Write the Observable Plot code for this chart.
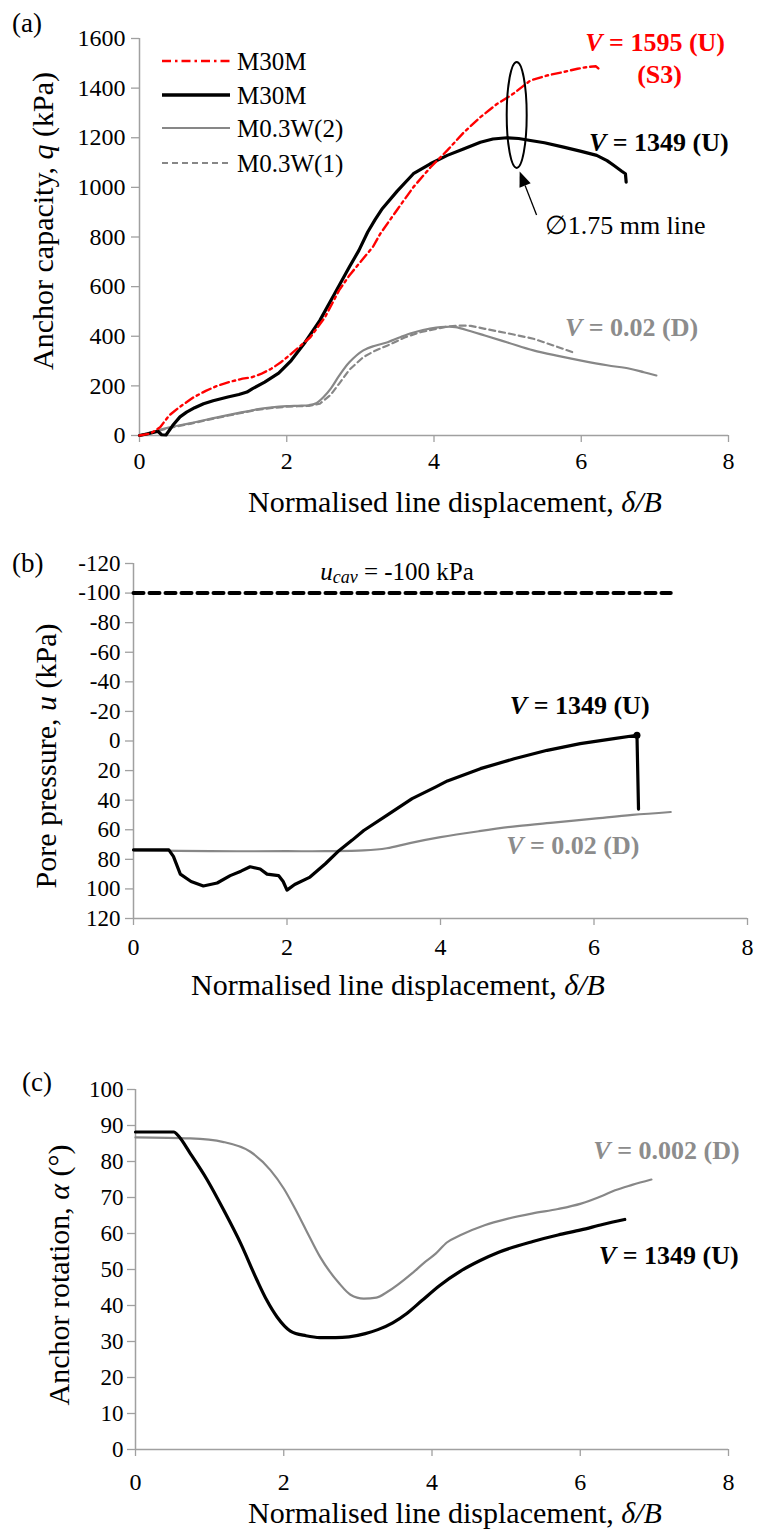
<!DOCTYPE html>
<html><head><meta charset="utf-8">
<script src="https://cdn.jsdelivr.net/npm/d3@7"></script>
<script src="https://cdn.jsdelivr.net/npm/@observablehq/plot@0.6"></script>
<style>
body{margin:0;background:#fff;}
#wrap{position:relative;width:758px;height:1533px;background:#fff;font-family:"Liberation Serif",serif;}
#wrap > svg{position:absolute;left:0;}
#wrap text{font-family:"Liberation Serif",serif;}
</style></head><body><div id="wrap"></div>
<script>
// ---------- DATA ----------
const xTicks = [0, 2, 4, 6, 8];
const qTicks = [0, 200, 400, 600, 800, 1000, 1200, 1400, 1600];
const uTicks = [-120, -100, -80, -60, -40, -20, 0, 20, 40, 60, 80, 100, 120];
const aTicks = [0, 10, 20, 30, 40, 50, 60, 70, 80, 90, 100];

const legendNames = ["M30M", "M30M", "M0.3W(2)", "M0.3W(1)"];

// Panel (a): anchor capacity q (kPa) vs delta/B
const qRedM30M = [[0,0],[0.15,8],[0.28,33],[0.4,80],[0.54,114],[0.74,155],[0.9,180],[1.07,202],[1.25,218],[1.4,229],[1.53,235],[1.65,248],[1.79,269],[1.92,295],[2.06,329],[2.2,365],[2.32,396],[2.52,477],[2.71,585],[2.85,645],[2.98,692],[3.17,760],[3.27,813],[3.5,910],[3.72,1001],[3.95,1080],[4.18,1149],[4.4,1220],[4.63,1283],[4.85,1335],[5.08,1378],[5.31,1431],[5.55,1452],[5.76,1465],[5.95,1478],[6.08,1485],[6.2,1488],[6.26,1472]];
const qBlackM30M = [[0,0],[0.1,6],[0.2,13],[0.25,17],[0.3,3],[0.36,2],[0.45,40],[0.55,75],[0.64,94],[0.75,112],[0.87,128],[1.0,140],[1.2,155],[1.35,165],[1.46,175],[1.53,188],[1.7,215],[1.89,251],[2.06,302],[2.25,376],[2.45,464],[2.65,571],[2.85,679],[2.98,746],[3.1,820],[3.2,870],[3.3,915],[3.5,985],[3.72,1055],[3.95,1095],[4.18,1129],[4.4,1155],[4.63,1182],[4.8,1195],[4.99,1200],[5.15,1197],[5.31,1189],[5.5,1180],[5.76,1162],[6.0,1145],[6.21,1129],[6.35,1108],[6.44,1089],[6.55,1065],[6.6,1055],[6.61,1021]];
const qGrayW2 = [[0,0],[0.41,33],[0.7,50],[1.07,74],[1.3,88],[1.59,105],[1.8,113],[2.0,118],[2.15,120],[2.3,122],[2.4,130],[2.5,155],[2.6,190],[2.71,240],[2.85,295],[3.04,343],[3.2,362],[3.37,376],[3.55,397],[3.7,413],[3.85,425],[4.03,435],[4.15,438],[4.29,437],[4.5,420],[4.69,403],[5.0,375],[5.35,343],[5.7,320],[6.0,302],[6.35,283],[6.66,269],[6.85,255],[7.02,242]];
const qGrayW1 = [[0,0],[0.41,31],[0.7,48],[1.07,72],[1.3,86],[1.59,103],[1.8,111],[2.0,116],[2.15,118],[2.3,119],[2.45,128],[2.6,165],[2.71,208],[2.85,265],[3.04,316],[3.2,342],[3.37,363],[3.6,395],[3.8,415],[4.03,430],[4.2,440],[4.36,443],[4.5,442],[4.69,430],[5.0,412],[5.35,390],[5.6,365],[5.88,336]];

// Panel (b): pore pressure u (kPa)
const uCav = [[0,-100],[7,-100]];
const uBlack = [[0,73.6],[0.46,73.6],[0.52,78],[0.61,90],[0.75,95],[0.91,98],[1.09,96],[1.26,91],[1.4,88],[1.52,85],[1.65,86.5],[1.74,90],[1.89,91],[1.95,95],[2.0,100.8],[2.1,97],[2.3,92],[2.5,83],[2.68,74],[2.85,67],[3.0,60.5],[3.31,50],[3.63,39],[3.94,31],[4.09,27],[4.52,18.7],[4.96,12],[5.39,6.3],[5.82,1.8],[6.26,-1.6],[6.56,-3.9],[6.58,46]];
const uBlackEnd = [[6.56,-3.9]];
const uGray = [[0,74],[1,74.5],[2,74.5],[2.5,74.5],[3,74],[3.3,72.5],[3.6,69],[4,65],[4.5,61],[5,57.5],[5.5,55],[6,52.5],[6.5,50],[7,48]];

// Panel (c): anchor rotation alpha (deg)
const aBlack = [[0,88.2],[0.52,88.2],[0.57,87.3],[0.74,82.2],[0.97,74.8],[1.19,66.5],[1.42,57.2],[1.64,47],[1.77,41.5],[1.91,36.8],[2.09,32.9],[2.3,31.6],[2.49,31.1],[2.7,31.1],[2.88,31.3],[3.1,32.2],[3.27,33.3],[3.47,35.2],[3.66,37.8],[3.86,41.3],[4.1,45.5],[4.38,49.5],[4.65,52.5],[4.9,54.8],[5.36,57.8],[5.7,59.6],[6.01,61.0],[6.3,62.5],[6.6,63.9]];
const aGray = [[0,86.7],[0.74,86.4],[1.19,85.4],[1.55,82.7],[1.82,77.6],[2.0,72.5],[2.15,67],[2.3,61],[2.49,53.5],[2.75,46.1],[2.9,43],[3.08,41.9],[3.25,42.2],[3.4,43.8],[3.73,48.9],[3.9,52],[4.05,54.4],[4.2,57.5],[4.38,59.5],[4.71,62.3],[5.0,64],[5.36,65.6],[5.7,66.8],[6.01,68.3],[6.3,70.5],[6.47,72],[6.7,73.5],[6.96,75]];

// ---------- HELPERS ----------
const SERIF = "Liberation Serif";
const AX = "#a0a0a0";
const RED = "#ff0000", GRAY = "#878787", GRAYT = "#8c8c8c";
const pts = a => a.map(([x, y]) => ({x, y}));

function rich(sel, parts, fs) {
  for (const p of parts) {
    const s = sel.append("tspan").text(p.t);
    if (p.i) s.attr("font-style", "italic");
    if (p.sub) s.attr("font-size", fs * 0.72).attr("dy", fs * 0.22);
    if (p.unsub) s.attr("dy", -fs * 0.22);
  }
}
function label(xv, yv, parts, {fs = 26, fill = "black", weight = "bold", anchor = "middle"} = {}) {
  return (index, scales) => {
    const t = d3.create("svg:text")
      .attr("x", scales.x(xv)).attr("y", scales.y(yv))
      .attr("text-anchor", anchor).attr("dominant-baseline", "central")
      .attr("font-family", SERIF).attr("font-size", fs)
      .attr("font-weight", weight).attr("fill", fill);
    rich(t, parts, fs);
    return t.node();
  };
}
function axes(yTicks, yFmt, xFs, yFs, xPad, yPad) {
  return [
    Plot.axisX({ticks: xTicks, tickSize: 7, tickPadding: xPad, stroke: AX, strokeWidth: 1.3, fill: "black", fontSize: xFs, fontFamily: SERIF, label: null}),
    Plot.axisY({ticks: yTicks, tickSize: 8, tickPadding: yPad, stroke: AX, strokeWidth: 1.3, fill: "black", fontSize: yFs, fontFamily: SERIF, label: null, tickFormat: yFmt})
  ];
}
const styleBase = {fontFamily: SERIF, background: "transparent", overflow: "visible", color: "black"};

const wrap = document.getElementById("wrap");

// ---------- PANEL (a) ----------
const A = Plot.plot({
  width: 758, height: 530, marginTop: 38, marginBottom: 95, marginLeft: 139, marginRight: 30,
  style: styleBase,
  x: {domain: [0, 8]}, y: {domain: [0, 1600]},
  marks: [
    ...axes(qTicks, d => String(d), 24, 24, 9, 6),
    Plot.ruleY([0], {stroke: AX, strokeWidth: 1.5}),
    Plot.ruleX([0], {stroke: AX, strokeWidth: 1.5}),
    Plot.line(pts(qGrayW1), {x: "x", y: "y", stroke: GRAY, strokeWidth: 2.2, strokeDasharray: "6,4"}),
    Plot.line(pts(qGrayW2), {x: "x", y: "y", stroke: GRAY, strokeWidth: 2.2, curve: "catmull-rom"}),
    Plot.line(pts(qBlackM30M), {x: "x", y: "y", stroke: "black", strokeWidth: 3.2, strokeLinejoin: "round"}),
    Plot.line(pts(qRedM30M), {x: "x", y: "y", stroke: RED, strokeWidth: 2.4, strokeDasharray: "9,4,2.5,4"}),
    (index, scales) => {
      const g = d3.create("svg:g");
      const cx = scales.x(5.13), cy = scales.y(1290);
      g.append("ellipse").attr("cx", cx).attr("cy", cy).attr("rx", 10).attr("ry", 53)
        .attr("fill", "none").attr("stroke", "black").attr("stroke-width", 2);
      const x1 = scales.x(5.40), y1 = scales.y(887), x2 = scales.x(5.17), y2 = scales.y(1062);
      const ang = Math.atan2(y2 - y1, x2 - x1), L = 15, W = 6;
      const bx = x2 - L * Math.cos(ang), by = y2 - L * Math.sin(ang);
      g.append("line").attr("x1", x1).attr("y1", y1).attr("x2", bx).attr("y2", by)
        .attr("stroke", "black").attr("stroke-width", 1.3);
      const px = -Math.sin(ang) * W, py = Math.cos(ang) * W;
      g.append("polygon").attr("points", `${x2},${y2} ${bx + px},${by + py} ${bx - px},${by - py}`).attr("fill", "black");
      return g.node();
    },
    label(7.01, 1585, [{t: "V", i: true}, {t: " = 1595 (U)"}], {fill: RED}),
    label(7.07, 1456, [{t: "(S3)"}], {fill: RED}),
    label(7.06, 1181, [{t: "V", i: true}, {t: " = 1349 (U)"}]),
    label(5.51, 847, [{t: "\u22051.75 mm line"}], {weight: "normal", anchor: "start"}),
    label(6.69, 435, [{t: "V", i: true}, {t: " = 0.02 (D)"}], {fill: GRAYT})
  ]
});
A.style.top = "0px";
wrap.appendChild(A);

// ---------- PANEL (b) ----------
const B = Plot.plot({
  width: 758, height: 520, marginTop: 33, marginBottom: 132, marginLeft: 133, marginRight: 11,
  style: styleBase,
  x: {domain: [0, 8]}, y: {domain: [120, -120]},
  marks: [
    ...axes(uTicks, d => String(d), 24, 23, 12, 5),
    Plot.ruleY([120], {stroke: AX, strokeWidth: 1.5}),
    Plot.ruleX([0], {stroke: AX, strokeWidth: 1.5}),
    Plot.line(pts(uCav), {x: "x", y: "y", stroke: "black", strokeWidth: 4, strokeDasharray: "10,6"}),
    Plot.line(pts(uGray), {x: "x", y: "y", stroke: GRAY, strokeWidth: 2.2, curve: "catmull-rom"}),
    Plot.line(pts(uBlack), {x: "x", y: "y", stroke: "black", strokeWidth: 3.2, strokeLinejoin: "round"}),
    Plot.dot(pts(uBlackEnd), {x: "x", y: "y", r: 3.5, fill: "black"}),
    label(3.44, -114.4, [{t: "u", i: true}, {t: "cav", i: true, sub: true}, {t: " = -100 kPa", unsub: true}], {weight: "normal", fs: 25}),
    label(5.82, -24.2, [{t: "V", i: true}, {t: " = 1349 (U)"}]),
    label(5.73, 70.6, [{t: "V", i: true}, {t: " = 0.02 (D)"}], {fill: GRAYT})
  ]
});
B.style.top = "530px";
wrap.appendChild(B);

// ---------- PANEL (c) ----------
const C = Plot.plot({
  width: 758, height: 483, marginTop: 39, marginBottom: 84, marginLeft: 135, marginRight: 30,
  style: styleBase,
  x: {domain: [0, 8]}, y: {domain: [0, 100]},
  marks: [
    ...axes(aTicks, d => String(d), 24, 23, 16, 4),
    Plot.ruleY([0], {stroke: AX, strokeWidth: 1.5}),
    Plot.ruleX([0], {stroke: AX, strokeWidth: 1.5}),
    Plot.line(pts(aGray), {x: "x", y: "y", stroke: GRAY, strokeWidth: 2.2, curve: "monotone-x"}),
    Plot.line(pts(aBlack), {x: "x", y: "y", stroke: "black", strokeWidth: 3.2, curve: "monotone-x"}),
    label(7.17, 83.1, [{t: "V", i: true}, {t: " = 0.002 (D)"}], {fill: GRAYT}),
    label(7.2, 54, [{t: "V", i: true}, {t: " = 1349 (U)"}])
  ]
});
C.style.top = "1050px";
wrap.appendChild(C);

// ---------- OVERLAY: panel letters, axis titles, legend ----------
const ov = d3.select(wrap).append("svg")
  .attr("width", 758).attr("height", 1533)
  .style("top", "0px").style("pointer-events", "none")
  .attr("font-family", SERIF);

[["(a)", 12, 23], ["(b)", 12, 563], ["(c)", 22, 1082]].forEach(([t, x, y]) =>
  ov.append("text").attr("x", x).attr("y", y).attr("dominant-baseline", "central")
    .attr("font-size", 27).text(t));

const xTitle = [{t: "Normalised line displacement, "}, {t: "\u03B4/B", i: true}];
[[455, 512], [398, 995], [455, 1523]].forEach(([x, y]) => {
  const t = ov.append("text").attr("x", x).attr("y", y).attr("text-anchor", "middle").attr("font-size", 30);
  rich(t, xTitle, 30);
});

[[42, 221, [{t: "Anchor capacity, "}, {t: "q", i: true}, {t: " (kPa)"}]],
 [45, 756, [{t: "Pore pressure, "}, {t: "u", i: true}, {t: " (kPa)"}]],
 [58, 1275, [{t: "Anchor rotation, "}, {t: "\u03B1", i: true}, {t: " (\u00B0)"}]]].forEach(([x, y, parts]) => {
  const t = ov.append("text").attr("transform", `translate(${x},${y}) rotate(-90)`)
    .attr("text-anchor", "middle").attr("dominant-baseline", "central").attr("font-size", 30);
  rich(t, parts, 30);
});

const legStyles = [
  {stroke: RED, w: 2.4, dash: "9,4,2.5,4"},
  {stroke: "black", w: 3.5, dash: null},
  {stroke: GRAY, w: 2.2, dash: null},
  {stroke: GRAY, w: 2.2, dash: "6,4"}
];
const legY = [61, 95, 128, 163];
legendNames.forEach((name, i) => {
  const s = legStyles[i];
  const l = ov.append("line").attr("x1", 162).attr("x2", 230).attr("y1", legY[i]).attr("y2", legY[i])
    .attr("stroke", s.stroke).attr("stroke-width", s.w);
  if (s.dash) l.attr("stroke-dasharray", s.dash);
  ov.append("text").attr("x", 237).attr("y", legY[i]).attr("dominant-baseline", "central")
    .attr("font-size", 25).text(name);
});
</script></body></html>
